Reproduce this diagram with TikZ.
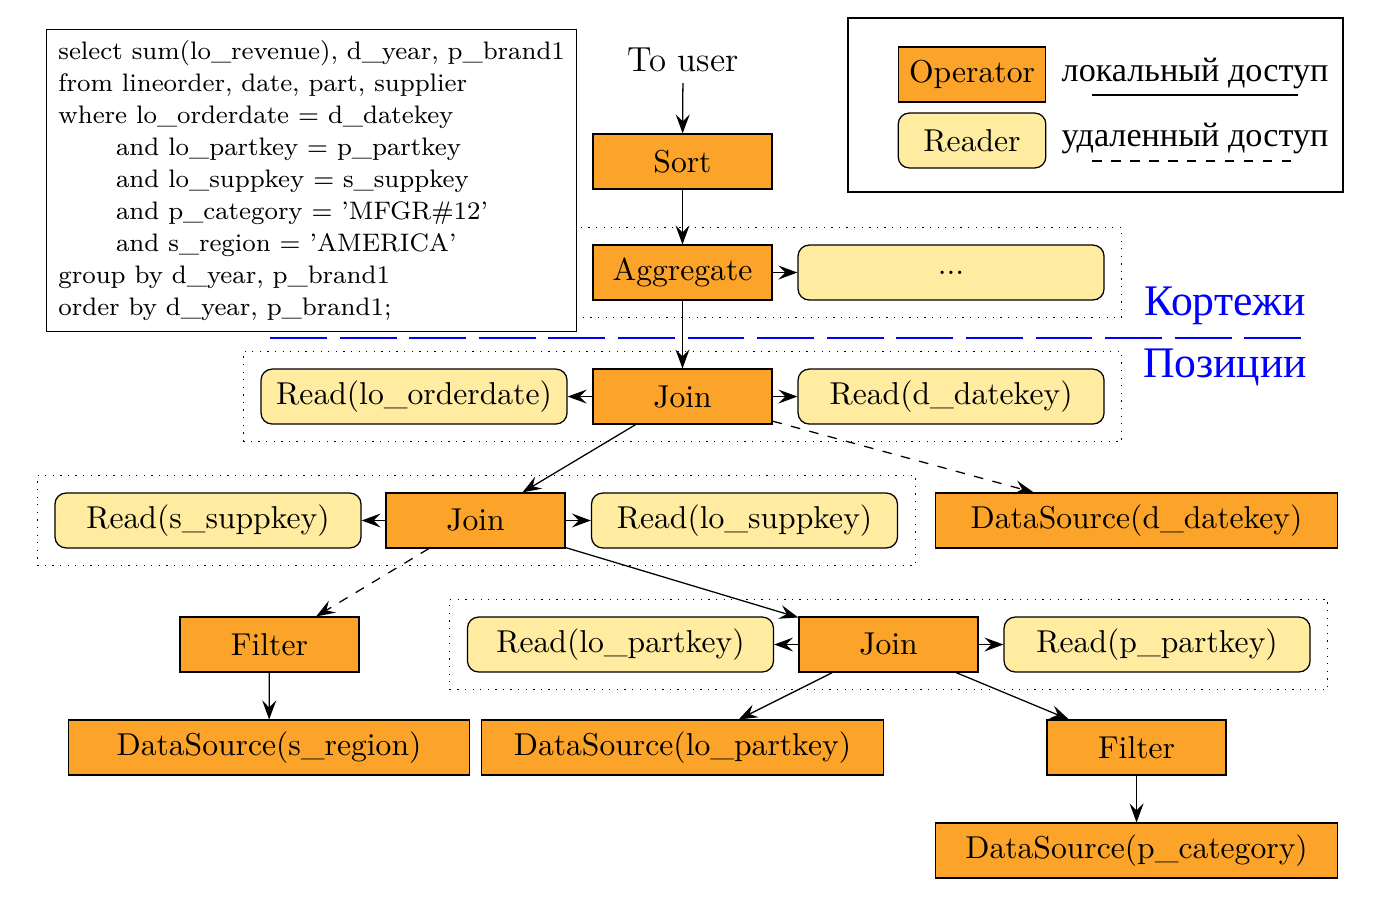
\documentclass[tikz,border=0pt]{standalone}
\usepackage{fontspec}
\newfontfamily\rufont{Liberation Serif}
\usetikzlibrary{arrows.meta,fit}

\definecolor{opfill}{RGB}{251,164,41}
\definecolor{rdfill}{RGB}{255,236,160}

\tikzset{
  oper/.style={draw, fill=opfill, minimum width=1.99cm, minimum height=0.61cm},
  reader/.style={draw, fill=rdfill, rounded corners=3.5pt, minimum width=3.4cm, minimum height=0.61cm},
  dsbox/.style={oper, minimum width=4.46cm},
  group/.style={draw, dotted, inner sep=0.19cm},
  >={Stealth[length=6pt,width=4.4pt,inset=2.2pt]}
}

\begin{document}
\begin{tikzpicture}

\useasboundingbox (0,0) rectangle (15.433,-10.078);

% plan
\node[font=\fontsize{11}{13}\selectfont] (touser) at (7.589,-0.667) {To user};
\node[oper] (sort) at (7.583,-1.794) {Sort};
\node[oper] (agg) at (7.583,-3.028) {Aggregate};
\node[reader] (aggrd) at (10.567,-3.028) {...};

\node[oper] (join1) at (7.583,-4.406) {Join};
\node[reader] (rdorder) at (4.6,-4.406) {Read(lo\_orderdate)};
\node[reader] (rddate) at (10.567,-4.406) {Read(d\_datekey)};

\node[oper] (join2) at (5.283,-5.783) {Join};
\node[reader] (rdssupp) at (2.311,-5.783) {Read(s\_suppkey)};
\node[reader] (rdlosupp) at (8.272,-5.783) {Read(lo\_suppkey)};
\node[dsbox] (dsdate) at (12.628,-5.783) {DataSource(d\_datekey)};

\node[oper] (filter1) at (2.994,-7.161) {Filter};
\node[oper] (join3) at (9.872,-7.161) {Join};
\node[reader] (rdlopart) at (6.894,-7.161) {Read(lo\_partkey)};
\node[reader] (rdppart) at (12.856,-7.161) {Read(p\_partkey)};

\node[dsbox] (dsregion) at (2.989,-8.306) {DataSource(s\_region)};
\node[dsbox] (dslopart) at (7.583,-8.306) {DataSource(lo\_partkey)};
\node[oper] (filter2) at (12.628,-8.306) {Filter};
\node[dsbox] (dscat) at (12.628,-9.45) {DataSource(p\_category)};

% groups
\node[group, fit=(agg)(aggrd)] (grp1) {};
\node[group, fit=(rdorder)(rddate)] (grp2) {};
\node[group, fit=(rdssupp)(rdlosupp)] (grp3) {};
\node[group, fit=(rdlopart)(rdppart)] (grp4) {};

% query
\node[draw, fill=white, anchor=north west, align=left, inner sep=0.12cm,
  minimum width=5.89cm, minimum height=3.356cm,
  font=\fontsize{8}{10.1}\selectfont] (query) at (0.511,-0.322) {%
select sum(lo\_revenue), d\_year, p\_brand1\\
from lineorder, date, part, supplier\\
where lo\_orderdate = d\_datekey\\
\hspace*{0.64cm}and lo\_partkey = p\_partkey\\
\hspace*{0.64cm}and lo\_suppkey = s\_suppkey\\
\hspace*{0.64cm}and p\_category = 'MFGR\#12'\\
\hspace*{0.64cm}and s\_region = 'AMERICA'\\
group by d\_year, p\_brand1\\
order by d\_year, p\_brand1;};

% edges
\draw[->] (touser) -- (sort);
\draw[->] (sort) -- (agg);
\draw[->] (agg) -- (aggrd);
\draw[->] (agg) -- (join1);
\draw[->] (join1) -- (rdorder);
\draw[->] (join1) -- (rddate);
\draw[->] (join1) -- (join2);
\draw[->, dashed] (join1) -- (dsdate);
\draw[->] (join2) -- (rdssupp);
\draw[->] (join2) -- (rdlosupp);
\draw[->, dashed] (join2) -- (filter1);
\draw[->] (join2) -- (join3);
\draw[->] (join3) -- (rdlopart);
\draw[->] (join3) -- (rdppart);
\draw[->] (join3) -- (dslopart);
\draw[->] (join3) -- (filter2);
\draw[->] (filter1) -- (dsregion);
\draw[->] (filter2) -- (dscat);

% tuples / positions
\draw[blue, line width=0.8pt, dash pattern=on 18pt off 4pt] (3,-3.756) -- (14.478,-3.756);
\node[blue, font=\rufont\fontsize{13.8}{16}\selectfont] (tuples) at (13.611,-3.4) {Кортежи};
\node[blue, font=\rufont\fontsize{13.8}{16}\selectfont] (positions) at (13.611,-4.078) {Позиции};

% legend
\draw (9.422,-0.2) rectangle (14.922,-2.133);
\node[oper, minimum width=1.64cm] (legop) at (10.8,-0.828) {Operator};
\node[reader, minimum width=1.64cm] (legrd) at (10.8,-1.561) {Reader};
\node[font=\rufont\fontsize{10.8}{13}\selectfont] (legloc) at (13.278,-0.811) {локальный доступ};
\node[font=\rufont\fontsize{10.8}{13}\selectfont] (legrem) at (13.278,-1.544) {удаленный доступ};
\draw ([xshift=-1.144cm,yshift=-0.244cm]legloc.center) -- ([xshift=1.144cm,yshift=-0.244cm]legloc.center);
\draw[dashed] ([xshift=-1.144cm,yshift=-0.244cm]legrem.center) -- ([xshift=1.144cm,yshift=-0.244cm]legrem.center);

\end{tikzpicture}
\end{document}
